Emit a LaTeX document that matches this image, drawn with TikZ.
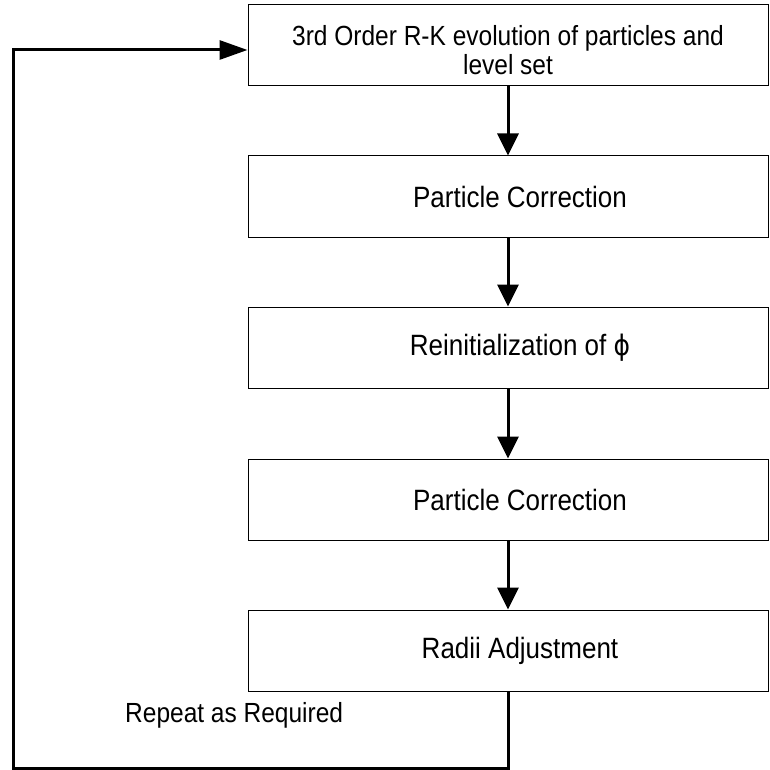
\documentclass[tikz,border=0pt]{standalone}
\usepackage{fontspec}
\setmainfont{Liberation Sans}
\newfontfamily\phifont{DejaVu Sans}
\usetikzlibrary{arrows.meta}
\newcommand\tallt[1]{\scalebox{1}[1.13]{#1}}
\newcommand\lowt[1]{\raisebox{-5pt}[\height][\depth]{\tallt{#1}}}
\tikzset{
  stepbox/.style={draw=black, line width=1pt, minimum width=520pt, minimum height=81pt,
    inner sep=0pt, font=\fontsize{26}{31}\selectfont, execute at begin node=\hspace*{24pt}},
  firstbox/.style={draw=black, line width=1pt, minimum width=520pt, minimum height=81pt,
    inner sep=0pt, align=center, font=\fontsize{24.5}{29}\selectfont},
  flow/.style={line width=3pt, -{Triangle[length=22pt,width=21pt]}},
  back/.style={line width=3pt, -{Triangle[length=28pt,width=19pt]}},
  lbl/.style={font=\fontsize{24.5}{29}\selectfont, inner sep=0pt, anchor=base west}
}
\begin{document}
\begin{tikzpicture}[x=1pt,y=-1pt]
\useasboundingbox (0,0) rectangle (770,770);
\node[firstbox] (b1) at (508,45.5) {\lowt{3rd Order R-K evolution of particles and}\\\lowt{level set}};
\node[stepbox] (b2) at (508,196.5) {\tallt{Particle Correction}};
\node[stepbox] (b3) at (508,347.5) {\tallt{Reinitialization of {\phifont\fontsize{25}{30}\selectfont ϕ}}};
\node[stepbox] (b4) at (508,499.5) {\tallt{Particle Correction}};
\node[stepbox] (b5) at (508,650.5) {\tallt{Radii Adjustment}};
\draw[flow] (b1.south) -- (b2.north);
\draw[flow] (b2.south) -- (b3.north);
\draw[flow] (b3.south) -- (b4.north);
\draw[flow] (b4.south) -- (b5.north);
\coordinate (ll) at (13,768);
\coordinate (ul) at (13,50);
\draw[back, line join=miter] (b5.south) |- (ll) -- (ul) -- (ul -| b1.west);
\node[lbl] (rep) at (125,722) {\tallt{Repeat as Required}};
\end{tikzpicture}
\end{document}
